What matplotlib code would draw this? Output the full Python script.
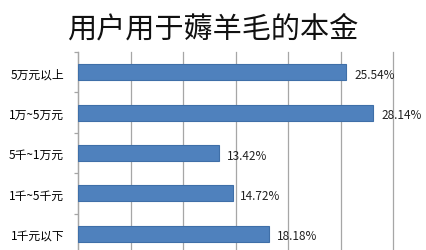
import matplotlib
matplotlib.use("Agg")
import matplotlib.pyplot as plt
import numpy as np

plt.rcParams['font.family'] = ['Noto Sans CJK SC', 'DejaVu Sans']

categories = ["5万元以上", "1万~5万元", "5千~1万元", "1千~5千元", "1千元以下"]
values = [25.54, 28.14, 13.42, 14.72, 18.18]
value_labels = ["25.54%", "28.14%", "13.42%", "14.72%", "18.18%"]

W, H = 426, 251
fig = plt.figure(figsize=(W / 100, H / 100), dpi=100)
fig.patch.set_facecolor("white")

ax = fig.add_axes([78 / W, -4 / H, (393 - 78) / W, (255 - 53) / H])
y = np.arange(len(categories))
ax.barh(y, values, height=0.4, color="#4F81BD", edgecolor="#3F6FA8", linewidth=0.8, zorder=3)

ax.set_xlim(0, 30)
ax.set_ylim(len(categories) - 0.5, -0.5)
ax.set_xticks(np.arange(0, 31, 5))
ax.tick_params(axis="x", length=0, labelbottom=False)
ax.xaxis.grid(True, color="#A6A6A6", linewidth=0.9, zorder=0)
for gl in ax.get_xgridlines():
    gl.set_clip_on(False)

ax.set_yticks(y)
ax.set_yticklabels(categories, fontsize=8.5)
ax.tick_params(axis="y", which="major", length=0, pad=10)
ax.set_yticks(np.arange(-0.5, len(categories) + 0.5, 1), minor=True)
ax.tick_params(axis="y", which="minor", length=3, color="#A6A6A6", width=0.9)

for s in ["top", "right", "bottom"]:
    ax.spines[s].set_visible(False)
ax.spines["left"].set_color("#A6A6A6")
ax.spines["left"].set_linewidth(0.9)

for yi, v, lab in zip(y, values, value_labels):
    ax.text(v + 0.75, yi + 0.05, lab, va="center", ha="left", fontsize=8.5, color="#222222", zorder=4)

fig.text(213 / W, 1 - 30 / H, "用户用于薅羊毛的本金", ha="center", va="center", fontsize=21, color="#111111")

fig.savefig("out.png", dpi=100, facecolor="white")
